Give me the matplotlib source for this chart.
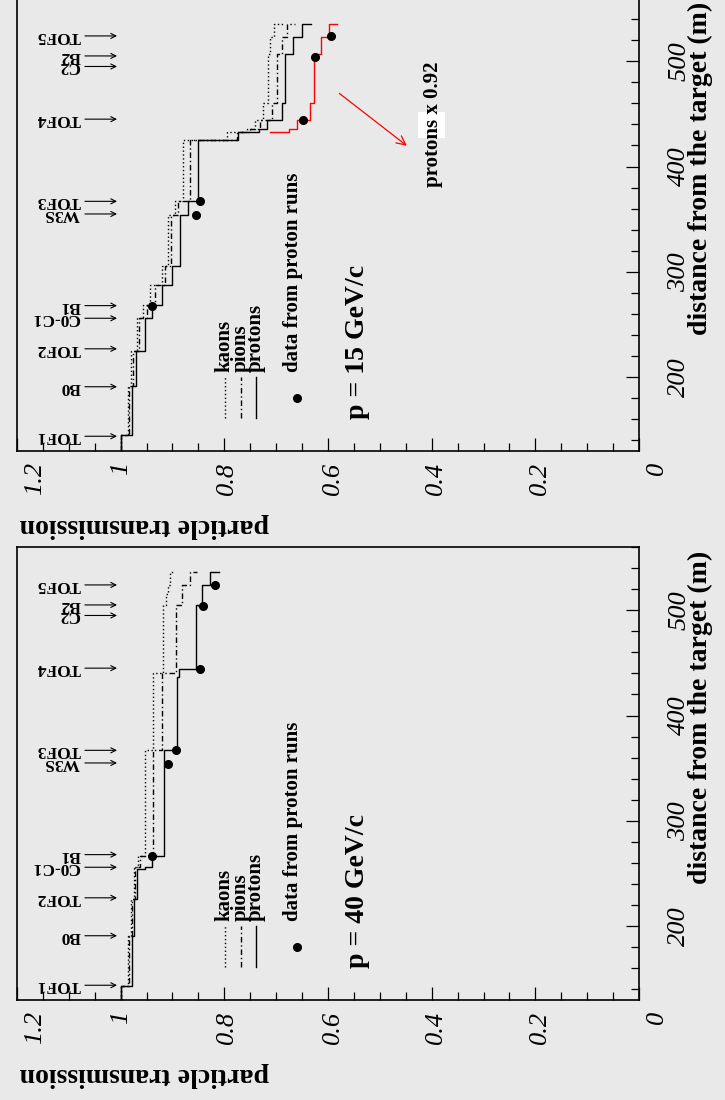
import numpy as np
import matplotlib
matplotlib.use("Agg")
import matplotlib.pyplot as plt
from matplotlib.ticker import MultipleLocator, FuncFormatter, NullFormatter
from matplotlib.patches import Rectangle

# ---------------- data ----------------
detectors = ["TOF1", "B0", "TOF2", "C0-C1", "B1", "W3S", "TOF3", "TOF4", "C2", "B2", "TOF5"]
detector_pos = [144, 191, 227, 256, 268, 355, 367, 445, 495, 505, 524]

# p = 40 GeV/c : breakpoints (m) and transmission reached at each breakpoint
d40_protons = [130, 143, 191, 226, 254, 256, 267, 367, 437, 444, 505, 524, 536]
t40_protons = [1.000, 0.978, 0.974, 0.968, 0.953, 0.939, 0.916, 0.892, 0.887, 0.855, 0.844, 0.828, 0.810]
d40_pions = [130, 143, 191, 226, 256, 267, 367, 440, 505, 524, 536]
t40_pions = [1.000, 0.983, 0.979, 0.972, 0.963, 0.938, 0.920, 0.893, 0.882, 0.866, 0.853]
d40_kaons = [130, 143, 191, 226, 256, 267, 367, 440, 505, 515, 524, 536]
t40_kaons = [1.000, 0.985, 0.981, 0.974, 0.966, 0.954, 0.937, 0.919, 0.912, 0.908, 0.904, 0.899]
d40_data = [267, 354, 367, 444, 504, 524]
t40_data = [0.940, 0.908, 0.894, 0.847, 0.842, 0.818]

# p = 15 GeV/c
d15 = [130, 145, 192, 225, 256.5, 268.4, 288, 305.3, 354.3, 367.5, 425.2, 433.1, 436, 444.2, 460, 507.3, 523, 535.7]
t15_protons = [1.000, 0.978, 0.971, 0.953, 0.939, 0.920, 0.900, 0.886, 0.871, 0.850, 0.773, 0.734, 0.718, 0.689, 0.682, 0.667, 0.651, 0.633]
t15_pions = [1.000, 0.983, 0.976, 0.964, 0.950, 0.934, 0.914, 0.902, 0.889, 0.866, 0.776, 0.750, 0.732, 0.709, 0.698, 0.689, 0.680, 0.664]
t15_kaons = [1.000, 0.985, 0.980, 0.969, 0.957, 0.943, 0.921, 0.908, 0.895, 0.879, 0.795, 0.757, 0.741, 0.725, 0.715, 0.711, 0.705, 0.683]
d15_data = [267.5, 354.3, 367.5, 444.2, 504, 524]
t15_data = [0.939, 0.855, 0.847, 0.648, 0.625, 0.594]
scale_factor = 0.92
scaled_from = 433.1

x_ticks = [1.2, 1.0, 0.8, 0.6, 0.4, 0.2, 0.0]
x_tick_shift = [-0.034, 0.0, -0.006, -0.009, -0.009, -0.009, -0.034]
y_ticks = [200, 300, 400, 500]

# ---------------- style ----------------
BG = "#e9e9e9"
SERIF = ["Liberation Serif", "DejaVu Serif"]
DOT = (0, (1, 1.8))
DASHDOT = (0, (4, 2, 1, 2))


def step_path(d, t):
    """Staircase: transmission constant between breakpoints, jumps at each breakpoint."""
    d = np.asarray(d, float)
    t = np.asarray(t, float)
    xs = np.repeat(t, 2)[:-1]
    ys = np.concatenate([[d[0]], np.repeat(d[1:], 2)])
    return xs, ys


def setup_axes(ax):
    ax.set_facecolor("none")
    ax.set_xlim(1.2, 0.0)
    ax.set_ylim(130, 560)
    ax.xaxis.set_major_locator(MultipleLocator(0.2))
    ax.xaxis.set_minor_locator(MultipleLocator(0.05))
    ax.yaxis.set_major_locator(MultipleLocator(100))
    ax.yaxis.set_minor_locator(MultipleLocator(20))
    ax.yaxis.tick_right()
    ax.tick_params(axis="x", which="both", direction="in", bottom=True, top=False)
    ax.tick_params(axis="y", which="both", direction="in", right=True, left=False)
    ax.tick_params(which="major", length=9.5, width=0.9)
    ax.tick_params(which="minor", length=5.5, width=0.9)
    ax.tick_params(axis="y", pad=21)
    ax.xaxis.set_major_formatter(NullFormatter())
    ax.yaxis.set_major_formatter(FuncFormatter(lambda v, p: f"{v:g}" if v in y_ticks else ""))
    for lab in ax.get_yticklabels():
        lab.set_rotation(90)
        lab.set_fontfamily(SERIF)
        lab.set_fontstyle("italic")
        lab.set_fontsize(19)
        lab.set_ha("left")
        lab.set_va("center")
    for s in ax.spines.values():
        s.set_linewidth(1.2)

    # transmission tick labels, rotated, below the frame
    xform = ax.get_xaxis_transform()
    for v, sh in zip(x_ticks, x_tick_shift):
        ax.text(v + sh, -0.024, f"{v:g}", transform=xform, rotation=90,
                ha="center", va="top", fontsize=19, fontstyle="italic",
                family=SERIF, clip_on=False)

    ax.text(1.098, 0.992, "distance from the target (m)", transform=ax.transAxes,
            rotation=90, ha="center", va="top", fontsize=20, fontweight="bold",
            family=SERIF)
    ax.text(0.005, -0.165, "particle transmission", transform=ax.transAxes,
            rotation=180, ha="left", va="center", fontsize=20, fontweight="bold",
            family=SERIF)

    for name, pos in zip(detectors, detector_pos):
        ax.text(1.078, pos, name, rotation=180, ha="right", va="center",
                fontsize=12.5, fontweight="bold", family=SERIF)
        ax.annotate("", xy=(1.007, pos), xytext=(1.069, pos),
                    arrowprops=dict(arrowstyle="->", lw=0.8, color="black",
                                    shrinkA=0, shrinkB=0, mutation_scale=9))

    # legend
    for tx, ls, name in [(0.799, DOT, "kaons"), (0.768, DASHDOT, "pions"),
                         (0.739, "-", "protons")]:
        ax.plot([tx, tx], [161, 200], color="black", lw=1.0, ls=ls)
        ax.text(tx, 205, name, rotation=90, ha="center", va="bottom",
                fontsize=15, fontweight="bold", family=SERIF)
    ax.plot([0.659], [180.5], "o", color="black", ms=5.5)
    ax.text(0.668, 205, "data from proton runs", rotation=90, ha="center",
            va="bottom", fontsize=15, fontweight="bold", family=SERIF)


def draw_curves(ax, series, d_data, t_data):
    for d, t, ls in series:
        xs, ys = step_path(d, t)
        ax.plot(xs, ys, color="black", lw=1.0, ls=ls)
    ax.errorbar(t_data, d_data, xerr=0.008, fmt="o", color="black", ms=5.5,
                elinewidth=0.9, capsize=0)


fig = plt.figure(figsize=(7.25, 11), dpi=100)
fig.patch.set_facecolor(BG)

W, H = 725.0, 1100.0
x0, x1 = 17.0, 639.0
ax_top = fig.add_axes([x0 / W, 1 - 451.0 / H, (x1 - x0) / W, 453.0 / H])
ax_bot = fig.add_axes([x0 / W, 1 - 1000.0 / H, (x1 - x0) / W, 453.0 / H])

# ---- p = 15 GeV/c ----
draw_curves(ax_top, [(d15, t15_kaons, DOT), (d15, t15_pions, DASHDOT),
                     (d15, t15_protons, "-")], d15_data[:3], t15_data[:3])
xs, ys = step_path(d15, t15_protons)
k = list(d15).index(scaled_from)
ax_top.plot(xs[2 * k - 1:] * scale_factor, ys[2 * k - 1:], color="red", lw=1.0)
ax_top.errorbar(t15_data[3:], d15_data[3:], xerr=0.008, fmt="o", color="black",
                ms=5.5, elinewidth=0.9, capsize=0)
ax_top.annotate("", xy=(0.448, 419.8), xytext=(0.578, 469.4),
                arrowprops=dict(arrowstyle="->", color="red", lw=0.9,
                                shrinkA=0, shrinkB=0, mutation_scale=16))
ax_top.add_patch(Rectangle((0.374, 427), 0.052, 25, facecolor="white",
                           edgecolor="none", zorder=1))
ax_top.text(0.397, 381, "protons x 0.92", rotation=90, ha="center", va="bottom",
            fontsize=15, fontweight="bold", family=SERIF, zorder=3)
ax_top.text(0.544, 160.5, "p = 15 GeV/c", rotation=90, ha="center", va="bottom",
            fontsize=20, fontweight="bold", family=SERIF)
setup_axes(ax_top)

# ---- p = 40 GeV/c ----
draw_curves(ax_bot, [(d40_kaons, t40_kaons, DOT), (d40_pions, t40_pions, DASHDOT),
                     (d40_protons, t40_protons, "-")], d40_data, t40_data)
ax_bot.text(0.544, 160.5, "p = 40 GeV/c", rotation=90, ha="center", va="bottom",
            fontsize=20, fontweight="bold", family=SERIF)
setup_axes(ax_bot)

fig.savefig("out.png", dpi=100, facecolor=BG)
